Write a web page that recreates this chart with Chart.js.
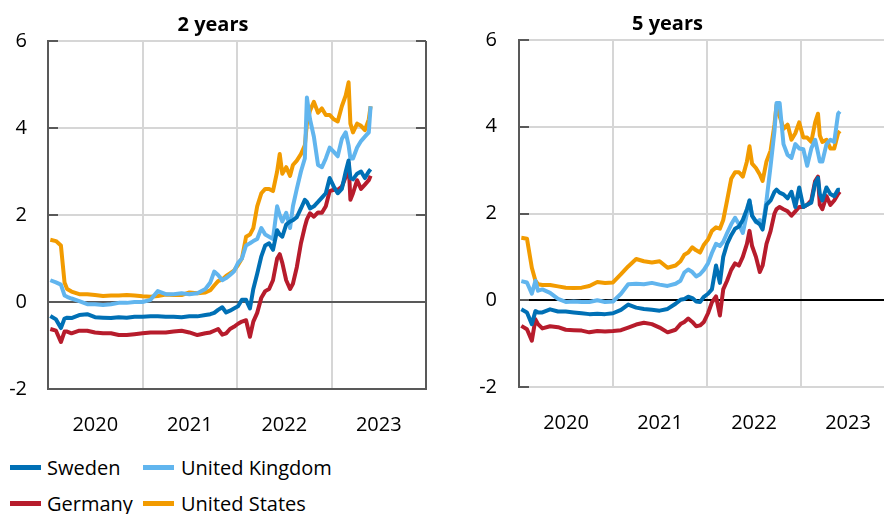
<!DOCTYPE html>
<html>
<head>
<meta charset="utf-8">
<script src="https://cdn.jsdelivr.net/npm/chart.js@4.4.1/dist/chart.umd.min.js"></script>
<style>
  body { margin: 0; background: #fff; }
  #wrap { position: relative; width: 884px; height: 514px; overflow: hidden; font-family: 'Open Sans', sans-serif; }
  .box { position: absolute; top: 0; }
  .label { position: absolute; font-size: 20px; line-height: 24px; color: #000; white-space: nowrap; }
  .swatch { position: absolute; width: 31px; height: 5px; }
</style>
</head>
<body>
<div id="wrap">
  <div class="box" style="left:0"><canvas id="chart2y" width="455" height="450"></canvas></div>
  <div class="box" style="left:440px"><canvas id="chart5y" width="515" height="450"></canvas></div>
  <div id="legend"></div>
</div>
<script>
// Observation dates
const dates = [
  '2020-01-10','2020-02-01','2020-02-20','2020-03-05','2020-03-15','2020-04-01','2020-05-01','2020-06-01','2020-07-01','2020-08-01','2020-09-01','2020-10-01','2020-11-01','2020-12-01',
  '2021-01-01','2021-02-01','2021-03-01','2021-04-01','2021-05-01','2021-06-01','2021-07-01','2021-08-01','2021-09-01','2021-09-20','2021-10-05','2021-10-20','2021-11-05','2021-11-20','2021-12-05','2021-12-20',
  '2022-01-05','2022-01-20','2022-02-05','2022-02-20','2022-03-05','2022-03-20','2022-04-05','2022-04-20','2022-05-05','2022-05-20','2022-06-05','2022-06-15','2022-06-25','2022-07-10','2022-07-25','2022-08-05','2022-08-20','2022-09-05','2022-09-20','2022-09-28','2022-10-10','2022-10-25','2022-11-10','2022-11-25','2022-12-10','2022-12-25',
  '2023-01-10','2023-01-25','2023-02-10','2023-02-25','2023-03-08','2023-03-15','2023-03-25','2023-04-10','2023-04-25','2023-05-10','2023-05-25','2023-06-01'
];

// 2 year government bond yields
const sweden2y = [
  -0.32, -0.40, -0.60, -0.38, -0.36, -0.37, -0.30, -0.28, -0.35, -0.36, -0.37, -0.35, -0.36, -0.34,
  -0.34, -0.33, -0.33, -0.34, -0.34, -0.35, -0.33, -0.33, -0.30, -0.28, -0.25, -0.18, -0.12, -0.24, -0.20, -0.15,
  -0.10, 0.05, 0.05, -0.15, 0.30, 0.65, 1.05, 1.30, 1.35, 1.20, 1.65, 1.55, 1.50, 1.78, 1.85, 1.88, 1.95, 2.15, 2.35, 2.30, 2.15, 2.20, 2.30, 2.40, 2.50, 2.85,
  2.65, 2.50, 2.60, 3.00, 3.25, 2.85, 2.82, 2.95, 3.00, 2.85, 3.00, 3.05
];
const uk2y = [
  0.50, 0.45, 0.40, 0.15, 0.12, 0.08, 0.02, -0.05, -0.05, -0.07, -0.05, -0.02, -0.02, 0.00,
  0.00, 0.05, 0.25, 0.18, 0.18, 0.20, 0.18, 0.20, 0.30, 0.45, 0.70, 0.62, 0.50, 0.55, 0.62, 0.70,
  0.90, 1.00, 1.30, 1.35, 1.40, 1.45, 1.70, 1.55, 1.50, 1.45, 2.20, 2.00, 1.85, 2.05, 1.70, 2.20, 2.60, 3.00, 3.30, 4.70, 4.20, 3.80, 3.15, 3.10, 3.30, 3.55,
  3.45, 3.35, 3.75, 3.90, 3.60, 3.30, 3.30, 3.55, 3.70, 3.80, 3.90, 4.50
];
const germany2y = [
  -0.62, -0.66, -0.92, -0.68, -0.68, -0.72, -0.66, -0.66, -0.70, -0.72, -0.72, -0.76, -0.76, -0.74,
  -0.72, -0.70, -0.70, -0.70, -0.68, -0.66, -0.70, -0.76, -0.72, -0.70, -0.66, -0.62, -0.75, -0.72, -0.62, -0.57,
  -0.50, -0.45, -0.42, -0.80, -0.45, -0.25, 0.10, 0.25, 0.30, 0.50, 1.00, 1.10, 0.90, 0.50, 0.30, 0.42, 0.80, 1.35, 1.73, 1.90, 2.04, 1.96, 2.06, 2.05, 2.20, 2.55,
  2.58, 2.58, 2.65, 2.88, 3.20, 2.35, 2.50, 2.80, 2.60, 2.70, 2.80, 2.90
];
const us2y = [
  1.43, 1.40, 1.30, 0.45, 0.30, 0.24, 0.18, 0.18, 0.16, 0.14, 0.15, 0.15, 0.16, 0.15,
  0.13, 0.12, 0.14, 0.17, 0.16, 0.16, 0.22, 0.20, 0.22, 0.27, 0.38, 0.48, 0.52, 0.60, 0.66, 0.72,
  0.85, 1.00, 1.50, 1.55, 1.70, 2.20, 2.50, 2.60, 2.60, 2.55, 3.00, 3.40, 2.95, 3.10, 2.90, 3.15, 3.25, 3.40, 3.60, 4.10, 4.40, 4.60, 4.35, 4.45, 4.30, 4.30,
  4.20, 4.15, 4.50, 4.75, 5.05, 4.10, 3.90, 4.10, 4.05, 3.95, 4.20, 4.50
];

// 5 year government bond yields
const sweden5y = [
  -0.21, -0.28, -0.55, -0.25, -0.28, -0.28, -0.21, -0.26, -0.26, -0.28, -0.30, -0.32, -0.31, -0.32,
  -0.30, -0.22, -0.10, -0.17, -0.20, -0.22, -0.24, -0.20, -0.08, 0.01, 0.03, 0.08, 0.05, -0.03, -0.04, 0.08,
  0.15, 0.25, 0.80, 0.40, 1.00, 1.30, 1.50, 1.65, 1.70, 1.85, 2.10, 2.30, 1.95, 1.82, 1.75, 1.63, 2.20, 2.30, 2.50, 2.55, 2.48, 2.44, 2.35, 2.50, 2.15, 2.60,
  2.15, 2.20, 2.25, 2.70, 2.82, 2.45, 2.30, 2.60, 2.45, 2.40, 2.55, 2.55
];
const uk5y = [
  0.44, 0.41, 0.15, 0.45, 0.22, 0.25, 0.17, 0.03, -0.04, -0.03, -0.04, -0.04, 0.00, -0.04,
  -0.03, 0.15, 0.37, 0.38, 0.37, 0.40, 0.36, 0.33, 0.38, 0.45, 0.64, 0.71, 0.65, 0.55, 0.60, 0.70,
  0.85, 1.09, 1.30, 1.25, 1.35, 1.55, 1.75, 1.90, 1.75, 1.55, 2.00, 2.30, 1.95, 1.80, 1.85, 1.70, 2.30, 3.10, 3.90, 4.55, 4.55, 3.60, 3.35, 3.28, 3.60, 3.50,
  3.48, 3.10, 3.50, 3.70, 3.40, 3.20, 3.20, 3.60, 3.70, 3.65, 4.30, 4.35
];
const germany5y = [
  -0.59, -0.67, -0.93, -0.44, -0.55, -0.65, -0.60, -0.62, -0.68, -0.69, -0.70, -0.74, -0.71, -0.72,
  -0.71, -0.69, -0.63, -0.56, -0.52, -0.55, -0.63, -0.74, -0.68, -0.55, -0.50, -0.42, -0.50, -0.60, -0.58, -0.50,
  -0.30, -0.05, 0.09, -0.35, 0.25, 0.45, 0.70, 0.85, 0.80, 1.00, 1.30, 1.60, 1.25, 1.00, 0.65, 0.80, 1.30, 1.60, 2.00, 2.10, 2.15, 2.10, 2.05, 1.95, 2.05, 2.15,
  2.15, 2.20, 2.30, 2.75, 2.85, 2.20, 2.10, 2.40, 2.20, 2.30, 2.45, 2.50
];
const us5y = [
  1.44, 1.42, 0.75, 0.45, 0.37, 0.35, 0.35, 0.32, 0.29, 0.28, 0.29, 0.33, 0.42, 0.40,
  0.41, 0.60, 0.78, 0.95, 0.90, 0.87, 0.90, 0.75, 0.80, 0.90, 1.05, 1.10, 1.22, 1.15, 1.10, 1.28,
  1.40, 1.60, 1.68, 1.65, 1.85, 2.30, 2.80, 2.95, 2.95, 2.85, 3.20, 3.55, 3.15, 3.05, 2.90, 2.75, 3.20, 3.45, 4.05, 4.50, 4.25, 3.95, 4.05, 3.70, 3.85, 4.10,
  3.75, 3.75, 3.65, 4.10, 4.30, 3.80, 3.65, 3.70, 3.50, 3.50, 3.85, 3.90
];

const yearLabels = ['2020', '2021', '2022', '2023'];
const countries = ['Sweden', 'United Kingdom', 'Germany', 'United States'];
const colors = {
  'Sweden': '#0070B5',
  'United Kingdom': '#61B5EE',
  'Germany': '#B71C2C',
  'United States': '#F29B00'
};

Chart.defaults.font.family = "'Open Sans', sans-serif";
Chart.defaults.font.size = 20;
Chart.defaults.color = '#000';

// date string -> decimal year
function toYear(s) {
  const [y, m, d] = s.split('-').map(Number);
  const start = Date.UTC(y, 0, 1);
  return y + (Date.UTC(y, m - 1, d) - start) / (Date.UTC(y + 1, 0, 1) - start);
}
const xs = dates.map(toYear);

function points(values) {
  return values.map((v, i) => ({ x: xs[i], y: v }));
}

// small tick marks pointing into the plot
const innerTicks = {
  id: 'innerTicks',
  beforeDatasetsDraw(chart, args, opts) {
    const { ctx, chartArea: a } = chart;
    const y = chart.scales.y;
    ctx.save();
    ctx.strokeStyle = '#595959';
    ctx.lineWidth = 2;
    y.ticks.forEach(t => {
      const py = Math.round(y.getPixelForValue(t.value));
      ctx.beginPath();
      ctx.moveTo(a.left, py);
      ctx.lineTo(a.left + 10, py);
      if (opts.right) {
        ctx.moveTo(a.right, py);
        ctx.lineTo(a.right - 10, py);
      }
      ctx.stroke();
    });
    ctx.restore();
  }
};

function makeChart(id, title, series, o) {
  // draw order: Sweden on top, then Germany, UK, US
  const order = ['Sweden', 'Germany', 'United Kingdom', 'United States'];
  new Chart(document.getElementById(id), {
    type: 'line',
    data: {
      datasets: order.map(name => ({
        label: name,
        data: points(series[name]),
        borderColor: colors[name],
        borderWidth: 4,
        borderJoinStyle: 'round',
        pointRadius: 0,
        tension: 0,
        fill: false
      }))
    },
    options: {
      responsive: false,
      animation: false,
      layout: { padding: { left: 0, right: o.padRight, top: 0, bottom: 0 } },
      plugins: {
        legend: { display: false },
        tooltip: { enabled: false },
        title: {
          display: true,
          text: title,
          font: { size: 20, weight: 'bold' },
          color: '#000',
          padding: { top: o.titleTop, bottom: 4 }
        },
        innerTicks: { right: o.rightBorder }
      },
      scales: {
        x: {
          type: 'linear',
          min: 2020,
          max: 2024,
          afterFit: s => { s.height = o.xHeight; },
          border: { display: o.bottomBorder, color: '#595959', width: 2 },
          grid: {
            drawTicks: false,
            lineWidth: 2,
            color: c => {
              const v = c.tick.value;
              if (Math.abs(v - Math.round(v)) > 0.01) return 'rgba(0,0,0,0)';
              if (v >= 2024 && o.rightBorder) return '#595959';
              return '#D6D6D6';
            }
          },
          ticks: {
            stepSize: 0.5,
            autoSkip: false,
            maxRotation: 0,
            padding: o.xPad,
            callback: v => {
              const i = Math.floor(v) - 2020;
              return Math.abs(v - Math.floor(v) - 0.5) < 0.01 ? yearLabels[i] : '';
            }
          }
        },
        y: {
          min: -2,
          max: 6,
          afterFit: s => { s.width = o.yWidth; },
          border: { color: '#595959', width: 2 },
          grid: {
            drawTicks: false,
            lineWidth: 2,
            color: c => {
              if (c.tick.value === 0) return o.zeroColor;
              if (c.tick.value === -2 && o.bottomBorder) return '#595959';
              return '#D6D6D6';
            }
          },
          ticks: { stepSize: 2, padding: o.yPad }
        }
      }
    },
    plugins: [innerTicks]
  });
}

makeChart('chart2y', '2 years',
  { 'Sweden': sweden2y, 'United Kingdom': uk2y, 'Germany': germany2y, 'United States': us2y },
  { padRight: 29, yWidth: 48, yPad: 21, xHeight: 61, xPad: 24, titleTop: 13,
    zeroColor: '#595959', rightBorder: true, bottomBorder: true });

makeChart('chart5y', '5 years',
  { 'Sweden': sweden5y, 'United Kingdom': uk5y, 'Germany': germany5y, 'United States': us5y },
  { padRight: 60, yWidth: 79, yPad: 22, xHeight: 63, xPad: 24, titleTop: 12,
    zeroColor: '#000000', rightBorder: false, bottomBorder: false });

// legend below the left panel, two columns
const legendPos = [
  { sx: 10, tx: 47, row: 0 }, { sx: 143, tx: 181, row: 0 },
  { sx: 10, tx: 47, row: 1 }, { sx: 143, tx: 181, row: 1 }
];
const legend = document.getElementById('legend');
countries.forEach((name, i) => {
  const p = legendPos[i];
  const cy = p.row === 0 ? 467 : 503;
  const sw = document.createElement('div');
  sw.className = 'swatch';
  sw.style.left = p.sx + 'px';
  sw.style.top = (cy - 2.5) + 'px';
  sw.style.background = colors[name];
  legend.appendChild(sw);
  const lb = document.createElement('div');
  lb.className = 'label';
  lb.style.left = p.tx + 'px';
  lb.style.top = (cy - 11) + 'px';
  lb.textContent = name;
  legend.appendChild(lb);
});
</script>
</body>
</html>
